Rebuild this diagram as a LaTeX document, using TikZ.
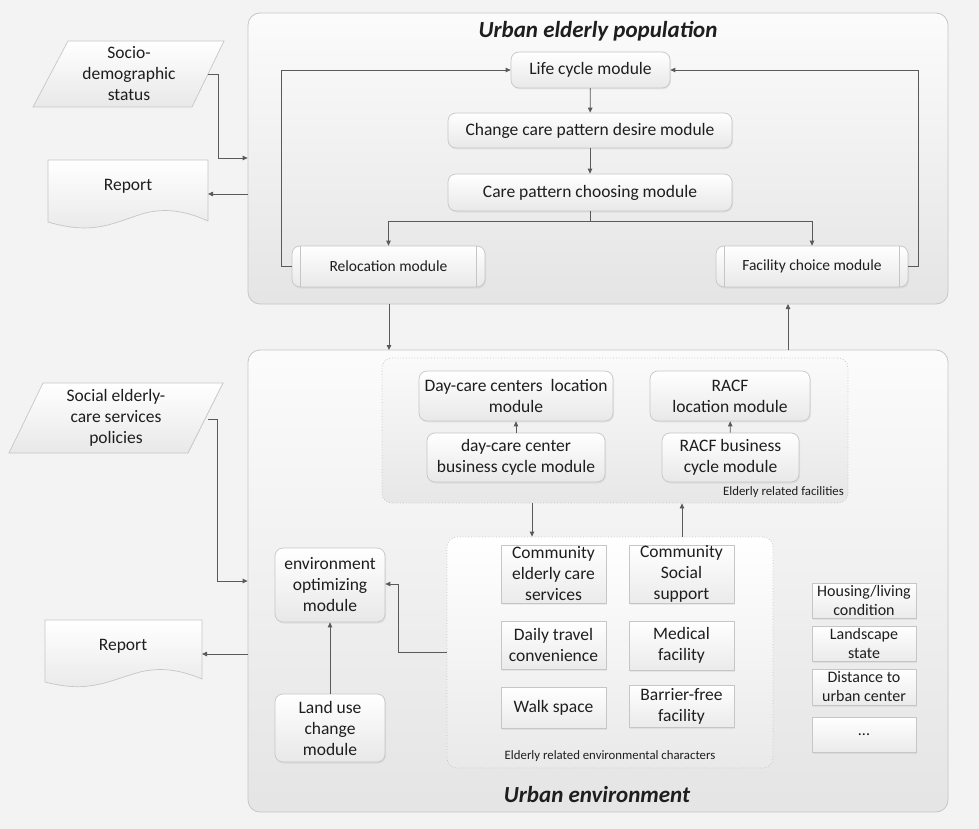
\documentclass[tikz,border=0pt]{standalone}
\usepackage{fontspec}
\setmainfont{Carlito}
\usetikzlibrary{shadows,arrows.meta,calc}
\definecolor{bgc}{HTML}{F3F3F3}
\definecolor{bordc}{HTML}{C6C6C6}
\definecolor{linec}{HTML}{5A5A5A}
\definecolor{txtc}{HTML}{1E1E1E}
\begin{document}
\begin{tikzpicture}[x=1pt,y=-1pt,
  every node/.style={text=txtc},
  container/.style={draw=bordc, line width=0.8pt, rounded corners=12pt, top color=white!70!bgc, bottom color=black!6!bgc, inner sep=0},
  group/.style={draw=bordc, dotted, line width=0.8pt, rounded corners=10pt, inner sep=0},
  mod/.style={draw=bordc, line width=0.7pt, rounded corners=8pt, top color=white, bottom color=black!9, drop shadow={opacity=0.12, shadow xshift=1pt, shadow yshift=-1.5pt}, align=center, inner sep=0, font=\fontsize{17.5}{21}\selectfont},
  sq/.style={draw=bordc, line width=0.7pt, top color=white, bottom color=black!8, drop shadow={opacity=0.12, shadow xshift=1pt, shadow yshift=-1.5pt}, align=center, inner sep=0, font=\fontsize{17.5}{21}\selectfont},
  rsq/.style={sq, font=\fontsize{16}{19}\selectfont},
  shapefill/.style={draw=bordc, line width=0.7pt, top color=white, bottom color=black!9},
  txt/.style={align=center, inner sep=0, font=\fontsize{17.5}{21}\selectfont},
  title/.style={font=\fontsize{23}{27}\selectfont\bfseries\itshape, inner sep=0},
  small/.style={font=\fontsize{12.8}{15}\selectfont, inner sep=0},
  arr/.style={draw=linec, line width=0.8pt, -{Triangle[length=5pt,width=4.5pt]}},
  ln/.style={draw=linec, line width=0.8pt}
]
% background / bounding box
\fill[bgc] (0,0) rectangle (979,829);
\useasboundingbox (0,0) rectangle (979,829);

% containers
\node[container, minimum width=700pt, minimum height=291pt] (pop) at (598,158.5) {};
\node[title] (popt) at (598,31) {Urban elderly population};
\node[container, minimum width=700pt, minimum height=462pt] (env) at (598,581) {};
\node[title] (envt) at (597,795) {Urban environment};

% top modules
\node[mod, minimum width=159pt, minimum height=36pt] (lc) at (590.5,70) {Life cycle module};
\node[mod, minimum width=284pt, minimum height=35pt] (cpd) at (590,130.5) {Change care pattern desire module};
\node[mod, minimum width=284pt, minimum height=37pt] (cpc) at (590,192.5) {Care pattern choosing module};
\node[mod, minimum width=193pt, minimum height=41pt, font=\fontsize{15.5}{18}\selectfont] (rel) at (388.5,266.5) {Relocation module};
\node[mod, minimum width=192pt, minimum height=41pt, font=\fontsize{15.5}{18}\selectfont] (fac) at (812,266.5) {Facility choice module};
\foreach \n in {rel,fac}{
  \draw[bordc, line width=0.7pt] ([xshift=9pt]\n.north west) -- ([xshift=9pt]\n.south west);
  \draw[bordc, line width=0.7pt] ([xshift=-9pt]\n.north east) -- ([xshift=-9pt]\n.south east);
}

\path[arr] (lc) -- (cpd);
\path[arr] (cpd) -- (cpc);
\coordinate (br) at (590,221);
\path[ln] (cpc.south) -- (br);
\path[arr] (br) -| (rel.north);
\path[arr] (br) -| (fac.north);
\path[arr] (rel.west) -- ++(-10,0) |- (lc.west);
\path[arr] (fac.east) -- ++(10,0) |- (lc.east);

% left inputs, top
\path[shapefill] (33,107) -- (68,41) -- (224,41) -- (192,107) -- cycle;
\node[txt] (soc) at (129,74) {Socio-\\demographic\\status};
\coordinate (socR) at (208,74);
\path[shapefill] (48,160) -- (208,160) -- (208,221) .. controls (190,213) and (170,207) .. (145,213) .. controls (115,222) and (95,236) .. (48,222) -- cycle;
\node[txt] (rep1) at (128,186) {Report};
\coordinate (rep1R) at (208,194);
\coordinate (popIn) at (pop.west |- 0,158);
\coordinate (popOut) at (pop.west |- 0,194);
\path[arr] (socR) -- ++(10,0) |- (popIn);
\path[arr] (popOut) -- (rep1R);

% inter-container arrows
\coordinate (dA) at (389,304);
\coordinate (dB) at (389,350);
\coordinate (uA) at (788,350);
\coordinate (uB) at (788,304);
\path[arr] (dA) -- (dB);
\path[arr] (uA) -- (uB);

% facilities group
\node[group, top color=white!60!bgc, bottom color=black!5!bgc, minimum width=466pt, minimum height=145pt] (fgrp) at (615,430.5) {};
\node[small, anchor=east] (fgl) at (844,492) {Elderly related facilities};
\node[mod, minimum width=194pt, minimum height=50pt] (dcl) at (516,396) {Day-care centers~ location\\module};
\node[mod, minimum width=178pt, minimum height=49pt] (dcb) at (516,457.5) {day-care center\\business cycle module};
\node[mod, minimum width=160pt, minimum height=50pt] (rcl) at (730,396) {RACF\\location module};
\node[mod, minimum width=137pt, minimum height=49pt] (rcb) at (730.5,457.5) {RACF business\\cycle module};
\path[arr] (dcb) -- (dcl);
\path[arr] (rcb) -- (rcl);

% environmental characters group
\node[group, top color=white, bottom color=black!4!bgc, minimum width=326pt, minimum height=231pt] (egrp) at (610,652.5) {};
\node[small] (egl) at (610,756) {Elderly related environmental characters};
\node[sq, minimum width=105pt, minimum height=58pt] (ces) at (553.5,574) {Community\\elderly care\\services};
\node[sq, minimum width=105pt, minimum height=58pt] (css) at (681.5,574) {Community\\Social\\support};
\node[sq, minimum width=105pt, minimum height=48pt] (dtc) at (553.5,645) {Daily travel\\convenience};
\node[sq, minimum width=105pt, minimum height=49pt] (mf) at (681.5,645.5) {Medical\\facility};
\node[sq, minimum width=105pt, minimum height=41pt] (ws) at (553.5,707.5) {Walk space};
\node[sq, minimum width=105pt, minimum height=42pt] (bff) at (681.5,706) {Barrier-free\\facility};

\path[arr] (fgrp.south -| 532,0) -- (egrp.north -| 532,0);
\path[arr] (egrp.north -| 682,0) -- (fgrp.south -| 682,0);

% right column
\node[rsq, minimum width=104pt, minimum height=35pt] (hlc) at (864,600.5) {Housing/living\\condition};
\node[rsq, minimum width=104pt, minimum height=35pt] (lss) at (864,643.5) {Landscape\\state};
\node[rsq, minimum width=104pt, minimum height=36pt] (dtu) at (864,687) {Distance to\\urban center};
\node[rsq, minimum width=104pt, minimum height=35pt] (dts) at (864,734.5) {...};

% environment optimizing
\node[mod, minimum width=110pt, minimum height=74pt] (eom) at (330,585) {environment\\optimizing\\module};
\node[mod, minimum width=110pt, minimum height=68pt] (luc) at (330,728) {Land use\\change\\module};
\path[arr] (luc) -- (eom);
\coordinate (egL) at (egrp.west |- 0,652);
\coordinate (eomR) at (eom.east |- 0,584);
\path[arr] (egL) -- (398,652) |- (eomR);

% left inputs, bottom
\path[shapefill] (9,453) -- (43,383) -- (223,383) -- (188,453) -- cycle;
\node[txt] (sec) at (116,418) {Social elderly-\\care services\\policies};
\coordinate (secR) at (208,419);
\path[shapefill] (45,620) -- (202,620) -- (202,679) .. controls (185,672) and (165,666) .. (140,672) .. controls (110,680) and (90,694) .. (45,682) -- cycle;
\node[txt] (rep2) at (123,646) {Report};
\coordinate (rep2R) at (202,654);
\coordinate (envIn) at (env.west |- 0,581);
\coordinate (envOut) at (env.west |- 0,654);
\path[arr] (secR) -- (217,419) |- (envIn);
\path[arr] (envOut) -- (rep2R);
\end{tikzpicture}
\end{document}
